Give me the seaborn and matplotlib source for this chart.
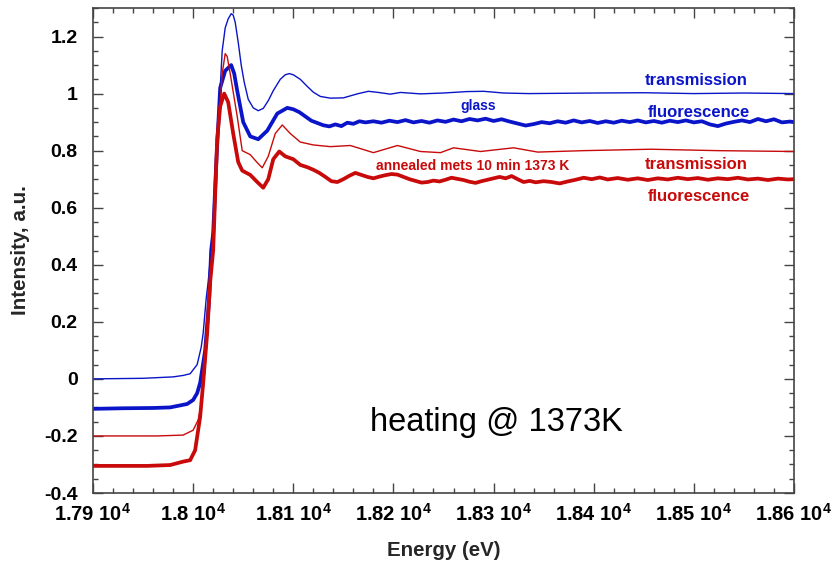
import matplotlib
matplotlib.use("Agg")
import matplotlib.pyplot as plt
import seaborn as sns
import pandas as pd
from matplotlib.ticker import MultipleLocator, FixedLocator

# ---------------- data ----------------
glass_T_E = [17900, 17950, 17980, 17990, 17997, 18004, 18008, 18010, 18013, 18015, 18018, 18022,
             18026, 18029, 18032, 18035, 18038, 18040, 18042, 18045, 18048, 18051, 18055, 18060,
             18065, 18070, 18075, 18080, 18087, 18092, 18096, 18100, 18107, 18114, 18120, 18127,
             18137, 18150, 18165, 18175, 18185, 18197, 18207, 18227, 18250, 18273, 18290, 18310,
             18335, 18400, 18450, 18500, 18550, 18600]
glass_T_I = [0.0, 0.002, 0.007, 0.012, 0.018, 0.05, 0.11, 0.16, 0.28, 0.34, 0.45, 0.63,
             0.95, 1.15, 1.23, 1.262, 1.28, 1.275, 1.25, 1.18, 1.10, 1.04, 0.98, 0.95,
             0.94, 0.948, 0.975, 1.01, 1.05, 1.066, 1.07, 1.066, 1.05, 1.025, 1.005, 0.99,
             0.984, 0.985, 1.0, 1.008, 1.004, 0.998, 1.004, 0.999, 1.002, 1.007, 1.008, 1.002,
             1.0, 1.002, 1.003, 1.0, 1.002, 1.0]

glass_F_E = [17900, 17930, 17960, 17977, 17994, 18000, 18004, 18007, 18012, 18016, 18018, 18020,
             18023, 18027, 18032, 18038, 18041, 18044, 18050, 18057, 18065, 18074, 18084, 18094,
             18100, 18106, 18112, 18118, 18124, 18130, 18136, 18142, 18148, 18154, 18160, 18166,
             18172, 18180, 18188, 18196, 18204, 18212, 18220, 18228, 18236, 18244, 18252, 18260,
             18268, 18276, 18284, 18292, 18300, 18308, 18316, 18324, 18332, 18340, 18348, 18356,
             18364, 18372, 18380, 18388, 18396, 18404, 18412, 18420, 18428, 18436, 18444, 18452,
             18460, 18468, 18476, 18484, 18492, 18500, 18508, 18516, 18524, 18532, 18540, 18548,
             18556, 18564, 18572, 18580, 18588, 18596, 18600]
glass_F_I = [-0.105, -0.103, -0.102, -0.1, -0.088, -0.074, -0.05, -0.014, 0.10, 0.28, 0.45, 0.51,
             0.75, 1.02, 1.08, 1.10, 1.07, 1.01, 0.90, 0.85, 0.84, 0.87, 0.93, 0.95,
             0.945, 0.935, 0.92, 0.905, 0.897, 0.889, 0.885, 0.892, 0.886, 0.898, 0.894, 0.903,
             0.899, 0.903, 0.898, 0.905, 0.900, 0.907, 0.899, 0.904, 0.898, 0.906, 0.901, 0.909,
             0.903, 0.911, 0.906, 0.912, 0.904, 0.910, 0.902, 0.895, 0.888, 0.893, 0.900, 0.896,
             0.903, 0.898, 0.906, 0.899, 0.904, 0.897, 0.903, 0.898, 0.905, 0.900, 0.906, 0.899,
             0.904, 0.898, 0.905, 0.900, 0.906, 0.899, 0.903, 0.892, 0.886, 0.895, 0.901, 0.906,
             0.900, 0.911, 0.903, 0.910, 0.899, 0.902, 0.900]

ann_T_E = [17900, 17964, 17990, 18000, 18005, 18009, 18012, 18015, 18019, 18025, 18029, 18032,
           18034, 18037, 18044, 18049, 18057, 18064, 18069, 18075, 18082, 18089, 18097, 18107,
           18120, 18137, 18157, 18180, 18204, 18227, 18247, 18260, 18287, 18320, 18344, 18390,
           18457, 18524, 18600]
ann_T_I = [-0.2, -0.2, -0.197, -0.18, -0.144, -0.074, 0.04, 0.22, 0.42, 0.86, 1.07, 1.14,
           1.13, 1.07, 0.92, 0.80, 0.786, 0.758, 0.74, 0.78, 0.86, 0.89, 0.86, 0.83,
           0.82, 0.814, 0.818, 0.793, 0.818, 0.797, 0.793, 0.81, 0.797, 0.81, 0.795, 0.80,
           0.805, 0.80, 0.797]

ann_F_E = [17900, 17954, 17977, 17990, 17997, 18002, 18007, 18010, 18014, 18017, 18020, 18024,
           18027, 18031, 18035, 18040, 18045, 18049, 18057, 18064, 18070, 18075, 18080, 18086,
           18092, 18100, 18107, 18114, 18120, 18126, 18132, 18138, 18144, 18150, 18156, 18162,
           18168, 18174, 18180, 18186, 18192, 18198, 18204, 18210, 18216, 18222, 18228, 18234,
           18240, 18246, 18252, 18258, 18264, 18270, 18276, 18282, 18288, 18294, 18300, 18306,
           18312, 18318, 18324, 18330, 18336, 18342, 18350, 18358, 18366, 18374, 18382, 18390,
           18398, 18406, 18414, 18424, 18434, 18444, 18454, 18464, 18474, 18484, 18494, 18504,
           18514, 18524, 18534, 18544, 18554, 18564, 18574, 18584, 18594, 18600]
ann_F_I = [-0.305, -0.305, -0.302, -0.29, -0.285, -0.25, -0.133, -0.015, 0.16, 0.34, 0.45, 0.84,
           0.955, 1.0, 0.97, 0.86, 0.76, 0.73, 0.715, 0.69, 0.67, 0.70, 0.77, 0.797,
           0.78, 0.77, 0.750, 0.742, 0.733, 0.722, 0.708, 0.693, 0.690, 0.700, 0.712, 0.722,
           0.715, 0.708, 0.703, 0.709, 0.714, 0.718, 0.716, 0.708, 0.700, 0.694, 0.688, 0.690,
           0.695, 0.692, 0.698, 0.705, 0.701, 0.697, 0.691, 0.687, 0.693, 0.698, 0.703, 0.708,
           0.703, 0.711, 0.700, 0.690, 0.694, 0.689, 0.693, 0.690, 0.685, 0.692, 0.698, 0.705,
           0.700, 0.706, 0.699, 0.704, 0.698, 0.703, 0.697, 0.703, 0.699, 0.705, 0.700, 0.704,
           0.698, 0.703, 0.700, 0.705, 0.699, 0.702, 0.697, 0.702, 0.699, 0.700]

x_ticks = [17900, 18000, 18100, 18200, 18300, 18400, 18500, 18600]
x_tick_labels = ["1.79 10$^{4}$", "1.8 10$^{4}$", "1.81 10$^{4}$", "1.82 10$^{4}$",
                 "1.83 10$^{4}$", "1.84 10$^{4}$", "1.85 10$^{4}$", "1.86 10$^{4}$"]
y_ticks = [-0.4, -0.2, 0, 0.2, 0.4, 0.6, 0.8, 1.0, 1.2]
y_tick_labels = ["-0.4", "-0.2", "0", "0.2", "0.4", "0.6", "0.8", "1", "1.2"]

BLUE = "#0a14c8"
RED = "#c80a0a"

frames = []
for name, E, I in [("glass_T", glass_T_E, glass_T_I), ("glass_F", glass_F_E, glass_F_I),
                   ("ann_T", ann_T_E, ann_T_I), ("ann_F", ann_F_E, ann_F_I)]:
    frames.append(pd.DataFrame({"energy": E, "intensity": I, "curve": name}))
df = pd.concat(frames, ignore_index=True)

# ---------------- plotting ----------------
sns.set_style("ticks")
plt.rcParams["font.family"] = ["Liberation Sans", "DejaVu Sans"]
plt.rcParams["mathtext.fontset"] = "custom"
plt.rcParams["mathtext.rm"] = "Liberation Sans:bold"
plt.rcParams["mathtext.it"] = "Liberation Sans:bold"
plt.rcParams["mathtext.bf"] = "Liberation Sans:bold"

fig = plt.figure(figsize=(8.37, 5.67), dpi=100)
ax = fig.add_axes([93 / 837, 1 - 493 / 567, (794 - 93) / 837, (493 - 8) / 567])

styles = {"glass_T": (BLUE, 1.0), "glass_F": (BLUE, 2.7),
          "ann_T": (RED, 1.0), "ann_F": (RED, 2.7)}
for name, (c, lw) in styles.items():
    sub = df[df["curve"] == name]
    sns.lineplot(data=sub, x="energy", y="intensity", ax=ax, color=c, linewidth=lw,
                 sort=False, estimator=None, legend=False)

ax.set_xlim(17900, 18600)
ax.set_ylim(-0.4, 1.3)
ax.xaxis.set_major_locator(FixedLocator(x_ticks))
ax.set_xticklabels(x_tick_labels)
ax.xaxis.set_minor_locator(MultipleLocator(20))
ax.yaxis.set_major_locator(FixedLocator(y_ticks))
ax.set_yticklabels(y_tick_labels)
ax.yaxis.set_minor_locator(MultipleLocator(0.05))

ax.tick_params(which="both", direction="in", top=True, right=True, colors="#444444",
               labelcolor="black", width=1)
ax.tick_params(which="major", length=7)
ax.tick_params(which="minor", length=3.5)
ax.tick_params(axis="x", which="major", labelsize=14.5, pad=7)
ax.tick_params(axis="y", which="major", labelsize=14, pad=11)
for lab in ax.get_xticklabels() + ax.get_yticklabels():
    lab.set_fontweight("bold")
for sp in ax.spines.values():
    sp.set_color("#444444")
    sp.set_linewidth(1.2)

ax.set_xlabel("Energy (eV)", fontsize=14.8, fontweight="bold", labelpad=12)
ax.set_ylabel("Intensity, a.u.", fontsize=14.8, fontweight="bold", labelpad=10)

tk = dict(fontweight="bold", ha="center", va="center")
ax.text(18502, 1.045, "transmission", color=BLUE, fontsize=12, **tk)
ax.text(18505, 0.932, "fluorescence", color=BLUE, fontsize=12, **tk)
ax.text(18285, 0.956, "glass", color=BLUE, fontsize=10, **tk)
ax.text(18279, 0.746, "annealed mets 10 min 1373 K", color=RED, fontsize=10, **tk)
ax.text(18502, 0.751, "transmission", color=RED, fontsize=12, **tk)
ax.text(18505, 0.640, "fluorescence", color=RED, fontsize=12, **tk)
ax.text(18303, -0.154, "heating @ 1373K", color="black", fontsize=23.5,
        ha="center", va="center")

fig.savefig("out.png", dpi=100)
